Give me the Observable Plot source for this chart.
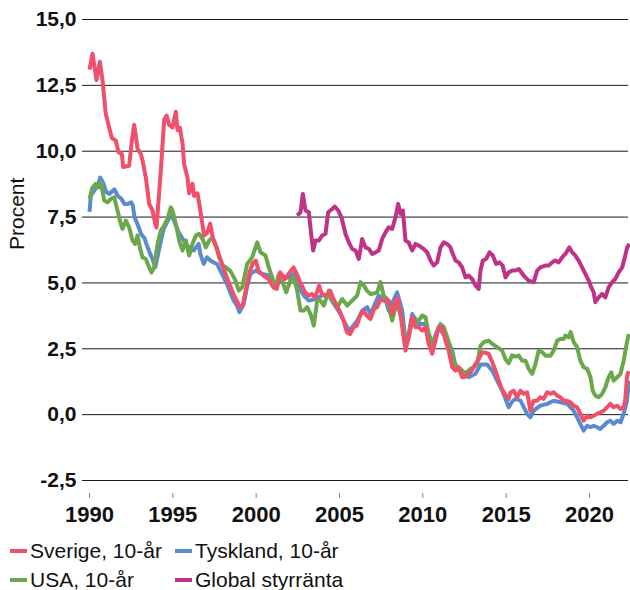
<!DOCTYPE html>
<html>
<head>
<meta charset="utf-8">
<script src="https://cdn.jsdelivr.net/npm/d3@7"></script>
<script src="https://cdn.jsdelivr.net/npm/@observablehq/plot@0.6"></script>
<style>
  html, body { margin: 0; padding: 0; background: #fff; overflow: hidden; }
  body { width: 630px; height: 590px; font-family: "Liberation Sans", Arial, sans-serif; }
  #legend { margin-top: 8px; padding-left: 10px; display: grid; grid-template-columns: 165px auto; font-size: 21px; color: #111; }
  .item { display: flex; align-items: center; height: 29px; line-height: 29px; white-space: nowrap; }
  .sw { width: 17px; height: 4px; margin-right: 3px; }
</style>
</head>
<body>
<div id="chart"></div>
<div id="legend"></div>
<script>
const seriesNames = ["Sverige, 10-år", "Tyskland, 10-år", "USA, 10-år", "Global styrränta"];
const seriesColors = ["#f0506a", "#5b8bcf", "#6aa84b", "#be3287"];
const xTicks = [1990, 1995, 2000, 2005, 2010, 2015, 2020];
const yTicks = [-2.5, 0, 2.5, 5, 7.5, 10, 12.5, 15];

const sverige = [[1990.0,13.1],[1990.18,13.7],[1990.42,12.7],[1990.62,13.4],[1990.78,12.7],[1990.98,11.4],[1991.06,11.2],[1991.34,10.5],[1991.58,10.4],[1991.74,9.96],[1991.94,9.9],[1992.02,9.4],[1992.38,9.45],[1992.54,10.4],[1992.68,11.0],[1992.82,10.4],[1992.88,10.1],[1993.08,9.9],[1993.18,9.65],[1993.38,9.0],[1993.58,8.0],[1993.78,7.75],[1993.94,7.25],[1994.02,7.1],[1994.28,9.27],[1994.48,11.2],[1994.62,11.35],[1994.78,11.0],[1994.98,10.9],[1995.18,11.5],[1995.28,10.8],[1995.42,10.9],[1995.58,10.3],[1995.68,9.5],[1995.88,9.0],[1995.98,8.4],[1996.18,8.76],[1996.28,8.3],[1996.48,8.4],[1996.62,7.87],[1996.74,7.37],[1996.88,6.8],[1997.06,6.9],[1997.24,7.25],[1997.4,6.7],[1997.56,6.45],[1997.7,6.2],[1997.9,5.8],[1998.16,5.35],[1998.36,5.0],[1998.66,4.55],[1998.86,4.3],[1999.02,4.08],[1999.2,4.15],[1999.4,4.8],[1999.6,5.4],[1999.8,5.75],[1999.98,5.85],[2000.14,5.47],[2000.44,5.28],[2000.74,5.15],[2001.04,4.83],[2001.24,4.77],[2001.44,5.40],[2001.74,5.15],[2001.94,5.34],[2002.24,5.59],[2002.44,5.34],[2002.64,5.03],[2002.94,4.64],[2003.14,4.52],[2003.34,4.58],[2003.54,4.45],[2003.78,4.9],[2003.94,4.58],[2004.24,4.52],[2004.44,4.71],[2004.64,4.39],[2004.84,4.14],[2005.04,3.89],[2005.24,3.57],[2005.44,3.13],[2005.64,3.06],[2005.84,3.32],[2006.04,3.38],[2006.24,3.76],[2006.44,3.95],[2006.64,3.75],[2006.86,3.63],[2007.06,4.01],[2007.26,4.08],[2007.46,4.39],[2007.65,4.33],[2007.95,4.33],[2008.16,3.82],[2008.36,4.2],[2008.46,4.45],[2008.66,3.82],[2008.79,3.19],[2008.96,2.43],[2009.15,2.94],[2009.36,3.70],[2009.56,3.32],[2009.75,3.32],[2009.96,3.19],[2010.16,3.32],[2010.35,2.69],[2010.56,2.31],[2010.76,2.81],[2010.95,3.32],[2011.16,3.32],[2011.36,2.81],[2011.55,2.43],[2011.76,1.80],[2011.96,1.67],[2012.15,1.80],[2012.36,1.42],[2012.56,1.45],[2012.75,1.55],[2012.96,1.7],[2013.16,1.93],[2013.35,2.1],[2013.56,2.37],[2013.76,2.35],[2013.95,2.31],[2014.16,2.0],[2014.36,1.67],[2014.55,1.3],[2014.76,0.95],[2014.96,0.75],[2015.15,0.6],[2015.26,0.85],[2015.45,0.91],[2015.66,0.66],[2015.86,0.91],[2016.05,0.79],[2016.26,0.85],[2016.45,0.15],[2016.65,0.53],[2016.86,0.53],[2017.05,0.66],[2017.25,0.60],[2017.46,0.85],[2017.65,0.79],[2017.85,0.85],[2018.06,0.72],[2018.25,0.66],[2018.45,0.53],[2018.66,0.53],[2018.85,0.47],[2019.05,0.34],[2019.26,0.28],[2019.45,0.03],[2019.65,-0.23],[2019.86,-0.04],[2020.06,-0.10],[2020.25,-0.04],[2020.46,0.03],[2020.65,0.09],[2020.85,0.15],[2021.06,0.28],[2021.25,0.41],[2021.45,0.28],[2021.66,0.34],[2021.86,0.22],[2022.05,0.28],[2022.15,0.6],[2022.25,1.45],[2022.35,1.65]];

const tyskland = [[1990.0,7.7],[1990.08,8.3],[1990.28,8.5],[1990.5,8.7],[1990.64,9.0],[1990.82,8.8],[1991.0,8.45],[1991.2,8.38],[1991.4,8.5],[1991.5,8.55],[1991.7,8.3],[1991.9,8.2],[1992.1,8.0],[1992.3,8.0],[1992.5,8.06],[1992.6,7.94],[1992.7,7.5],[1992.9,7.2],[1993.1,6.85],[1993.3,6.7],[1993.4,6.5],[1993.58,6.2],[1993.78,5.9],[1993.95,5.6],[1994.2,6.35],[1994.45,7.05],[1994.75,7.43],[1994.95,7.55],[1995.35,6.92],[1995.65,6.61],[1995.95,6.35],[1996.25,6.23],[1996.55,6.48],[1996.65,6.1],[1996.85,5.72],[1997.05,5.97],[1997.25,5.85],[1997.45,5.78],[1997.65,5.72],[1997.85,5.47],[1998.05,5.21],[1998.25,4.96],[1998.45,4.64],[1998.65,4.33],[1998.85,4.14],[1999.0,3.89],[1999.25,4.2],[1999.45,4.83],[1999.65,5.34],[1999.96,5.47],[2000.36,5.34],[2000.76,5.28],[2001.16,4.83],[2001.56,5.21],[2001.96,5.21],[2002.26,5.34],[2002.56,4.83],[2002.86,4.52],[2003.16,4.33],[2003.56,4.39],[2003.96,4.52],[2004.36,4.52],[2004.66,4.2],[2005.06,3.82],[2005.36,3.44],[2005.56,3.19],[2005.76,3.32],[2006.06,3.57],[2006.36,3.95],[2006.66,4.08],[2006.86,3.82],[2007.06,4.1],[2007.35,4.52],[2007.75,4.39],[2007.95,3.95],[2008.46,4.64],[2008.76,3.95],[2008.96,2.81],[2009.15,3.06],[2009.36,3.82],[2009.75,3.44],[2010.16,3.44],[2010.56,2.69],[2010.95,3.32],[2011.36,2.94],[2011.76,2.43],[2011.96,1.86],[2012.36,1.55],[2012.75,1.42],[2013.16,1.55],[2013.46,1.9],[2013.86,1.9],[2014.16,1.67],[2014.46,1.29],[2014.76,0.91],[2014.96,0.6],[2015.15,0.28],[2015.36,0.5],[2015.56,0.6],[2015.86,0.53],[2016.26,0.03],[2016.45,-0.1],[2016.65,0.15],[2017.05,0.34],[2017.46,0.41],[2017.85,0.53],[2018.25,0.47],[2018.66,0.41],[2019.05,0.15],[2019.26,-0.1],[2019.45,-0.35],[2019.65,-0.61],[2019.86,-0.42],[2020.06,-0.48],[2020.25,-0.42],[2020.46,-0.48],[2020.65,-0.54],[2020.85,-0.42],[2021.06,-0.29],[2021.25,-0.23],[2021.45,-0.35],[2021.66,-0.23],[2021.86,-0.29],[2022.05,0.03],[2022.25,0.53],[2022.38,1.29]];

const usa = [[1990.0,8.19],[1990.18,8.63],[1990.38,8.76],[1990.54,8.63],[1990.68,8.82],[1990.88,8.13],[1991.08,8.06],[1991.28,8.19],[1991.48,8.25],[1991.68,7.75],[1991.88,7.24],[1991.98,7.05],[1992.18,7.37],[1992.38,7.11],[1992.58,6.61],[1992.74,6.48],[1992.88,6.8],[1993.02,6.35],[1993.18,5.97],[1993.38,5.91],[1993.58,5.59],[1993.72,5.4],[1993.88,5.59],[1994.08,6.48],[1994.28,6.99],[1994.48,7.18],[1994.68,7.43],[1994.88,7.87],[1994.98,7.75],[1995.18,7.24],[1995.38,6.61],[1995.58,6.23],[1995.78,6.61],[1995.98,6.04],[1996.18,6.48],[1996.38,6.8],[1996.58,6.86],[1996.78,6.67],[1996.98,6.35],[1997.18,6.61],[1997.38,6.73],[1997.58,6.42],[1997.78,5.97],[1998.0,5.65],[1998.16,5.6],[1998.46,5.45],[1998.76,5.09],[1998.96,4.71],[1999.16,4.83],[1999.46,5.72],[1999.76,5.97],[2000.06,6.54],[2000.26,6.16],[2000.56,6.04],[2000.76,5.59],[2000.96,5.21],[2001.16,4.83],[2001.36,5.34],[2001.56,5.09],[2001.8,4.64],[2002.06,5.09],[2002.26,5.21],[2002.46,4.71],[2002.66,3.95],[2002.86,3.95],[2003.06,4.08],[2003.26,3.82],[2003.46,3.38],[2003.66,4.33],[2003.86,4.33],[2004.06,4.14],[2004.36,4.71],[2004.56,4.33],[2004.86,4.08],[2005.16,4.39],[2005.46,4.14],[2005.76,4.33],[2006.06,4.52],[2006.26,5.03],[2006.46,4.9],[2006.66,4.7],[2006.86,4.58],[2007.06,4.6],[2007.26,4.64],[2007.46,5.03],[2007.65,4.52],[2007.85,4.39],[2008.06,3.82],[2008.16,3.57],[2008.36,4.08],[2008.56,4.01],[2008.76,3.57],[2008.96,2.56],[2009.15,2.94],[2009.36,3.57],[2009.56,3.57],[2009.75,3.57],[2009.96,3.76],[2010.16,3.70],[2010.35,3.06],[2010.56,2.69],[2010.76,2.94],[2011.06,3.44],[2011.26,3.32],[2011.46,2.94],[2011.66,2.56],[2011.86,1.99],[2012.06,1.80],[2012.26,1.74],[2012.46,1.61],[2012.66,1.61],[2012.86,1.74],[2013.06,1.80],[2013.26,1.93],[2013.46,2.62],[2013.66,2.75],[2013.95,2.81],[2014.16,2.69],[2014.46,2.56],[2014.76,2.43],[2014.96,2.1],[2015.15,1.95],[2015.36,2.25],[2015.56,2.2],[2015.76,2.24],[2015.96,2.05],[2016.16,2.05],[2016.35,1.74],[2016.56,1.55],[2016.76,1.93],[2016.95,2.43],[2017.16,2.37],[2017.36,2.24],[2017.66,2.24],[2017.85,2.43],[2018.06,2.81],[2018.25,2.87],[2018.45,2.87],[2018.55,3.0],[2018.75,2.94],[2018.87,3.13],[2019.05,2.75],[2019.26,2.56],[2019.45,2.05],[2019.65,1.80],[2019.86,1.74],[2020.06,1.42],[2020.19,0.91],[2020.35,0.72],[2020.55,0.66],[2020.76,0.79],[2020.95,1.04],[2021.15,1.42],[2021.31,1.61],[2021.45,1.29],[2021.66,1.42],[2021.86,1.55],[2022.05,2.05],[2022.19,2.56],[2022.35,3.06]];

const global = [[2002.46,7.56],[2002.66,7.68],[2002.8,8.38],[2002.96,7.75],[2003.16,7.68],[2003.32,6.73],[2003.42,6.23],[2003.56,6.61],[2003.76,6.61],[2003.96,6.80],[2004.16,6.86],[2004.32,7.68],[2004.56,7.81],[2004.72,7.9],[2004.92,7.75],[2005.12,7.49],[2005.36,6.86],[2005.56,6.54],[2005.76,6.29],[2005.96,6.23],[2006.16,5.91],[2006.36,6.67],[2006.56,6.35],[2006.76,6.29],[2006.96,6.1],[2007.16,6.16],[2007.36,6.23],[2007.56,6.67],[2007.76,6.92],[2007.95,7.11],[2008.16,7.05],[2008.36,7.49],[2008.52,8.0],[2008.66,7.62],[2008.8,7.75],[2008.96,6.61],[2009.15,6.54],[2009.36,6.23],[2009.56,6.48],[2009.75,6.42],[2010.05,6.29],[2010.26,6.16],[2010.46,5.85],[2010.65,5.66],[2010.86,5.78],[2011.06,6.35],[2011.26,6.54],[2011.46,6.48],[2011.66,6.35],[2011.76,6.16],[2011.96,5.85],[2012.15,5.78],[2012.36,5.59],[2012.56,5.21],[2012.75,5.28],[2012.96,5.15],[2013.16,4.90],[2013.35,4.77],[2013.46,5.47],[2013.6,5.85],[2013.8,5.91],[2014.0,6.16],[2014.2,6.04],[2014.4,5.72],[2014.6,5.78],[2014.79,5.66],[2014.96,5.21],[2015.15,5.40],[2015.36,5.47],[2015.56,5.47],[2015.76,5.53],[2016.05,5.28],[2016.35,5.09],[2016.65,5.03],[2016.86,5.47],[2017.05,5.59],[2017.35,5.66],[2017.55,5.66],[2017.76,5.78],[2017.95,5.85],[2018.15,5.78],[2018.36,5.97],[2018.55,6.10],[2018.79,6.35],[2018.96,6.16],[2019.15,6.04],[2019.35,5.85],[2019.56,5.59],[2019.75,5.34],[2019.95,5.09],[2020.11,4.83],[2020.25,4.64],[2020.35,4.27],[2020.55,4.45],[2020.76,4.58],[2020.95,4.45],[2021.15,4.83],[2021.36,5.03],[2021.55,5.15],[2021.75,5.40],[2021.96,5.59],[2022.12,5.97],[2022.26,6.35],[2022.4,6.48]];

const fmt = d => d.toFixed(1).replace(".", ",");
const drawOrder = [1, 2, 0, 3];
const seriesData = [sverige, tyskland, usa, global];

const lineMarks = drawOrder.map(i => Plot.line(seriesData[i], {
  x: d => d[0], y: d => d[1], stroke: seriesColors[i], strokeWidth: 4,
  strokeLinejoin: "round", strokeLinecap: "butt"
}));

const chart = Plot.plot({
  width: 630,
  height: 528,
  marginTop: 19,
  marginBottom: 48,
  marginLeft: 82,
  marginRight: 2,
  style: { fontFamily: "'Liberation Sans', Arial, sans-serif", background: "#fff", color: "#111" },
  x: { domain: [1989.58, 2022.34] },
  y: { domain: [-2.5, 15] },
  marks: [
    Plot.ruleY(yTicks, { stroke: "#1a1a1a", strokeWidth: 1 }),
    Plot.axisY({ ticks: yTicks, tickSize: 0, tickPadding: 6, tickFormat: fmt, fontSize: 21, fontWeight: "bold", label: null }),
    Plot.axisX({ ticks: xTicks, tickSize: 5, dy: 13, tickPadding: 8, tickFormat: d => String(d), fontSize: 22, fontWeight: "bold", label: null, stroke: "#888" }),
    ...lineMarks,
    Plot.text(["Procent"], { frameAnchor: "left", dx: -65, rotate: -90, fontSize: 21, fill: "#111" })
  ]
});
document.getElementById("chart").appendChild(chart);

const legend = document.getElementById("legend");
seriesNames.forEach((name, i) => {
  const item = document.createElement("div");
  item.className = "item";
  const sw = document.createElement("span");
  sw.className = "sw";
  sw.style.background = seriesColors[i];
  const label = document.createElement("span");
  label.textContent = name;
  item.appendChild(sw);
  item.appendChild(label);
  legend.appendChild(item);
});
</script>
</body>
</html>
